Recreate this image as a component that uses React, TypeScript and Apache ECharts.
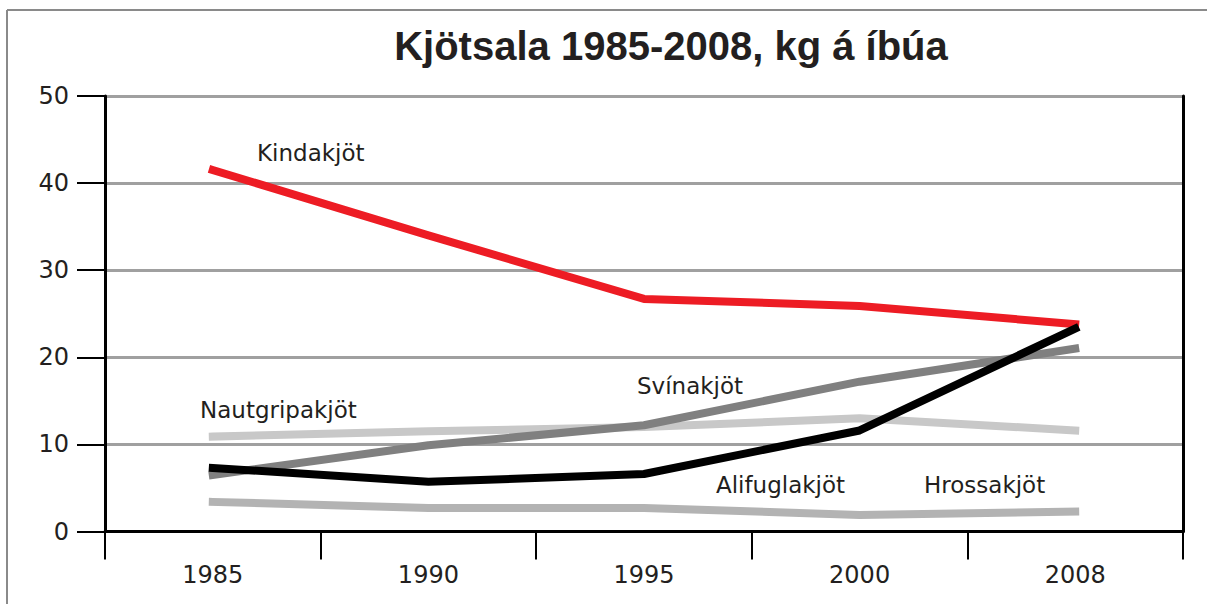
import React, { useEffect, useRef } from "react";
import * as echarts from "echarts";

const years = ["1985", "1990", "1995", "2000", "2008"];
const kindakjot = [41.5, 34.0, 26.7, 25.9, 23.8];
const nautgripakjot = [10.9, 11.5, 12.0, 13.0, 11.6];
const svinakjot = [6.5, 9.9, 12.2, 17.2, 21.0];
const alifuglakjot = [7.3, 5.7, 6.6, 11.6, 23.3];
const hrossakjot = [3.4, 2.7, 2.7, 1.9, 2.3];
const yTicks = { min: 0, max: 50, interval: 10 };

const titleText = "Kjötsala 1985-2008, kg á íbúa";

export default function App() {
  const ref = useRef<HTMLDivElement>(null);
  useEffect(() => {
    if (!ref.current) return;
    const chart = echarts.init(ref.current, null, { renderer: "svg" });
    const textColor = "#231f20";
    const labelFont = "'DejaVu Sans', sans-serif";
    const line = (name: string, data: number[], color: string, z: number) => ({
      name,
      type: "line",
      data,
      showSymbol: false,
      symbol: "none",
      z,
      lineStyle: { color, width: 8, cap: "square", join: "round" },
    });
    const lbl = (text: string, x: number, y: number) => ({
      type: "text",
      x,
      y,
      style: {
        text,
        fill: textColor,
        font: `23px ${labelFont}`,
        textVerticalAlign: "middle",
      },
    });
    chart.setOption({
      animation: false,
      backgroundColor: "#ffffff",
      grid: { left: 105, right: 24, top: 96, bottom: 72.5, containLabel: false },
      xAxis: {
        type: "category",
        data: years,
        boundaryGap: true,
        axisLine: { show: true, lineStyle: { color: "#000", width: 3 } },
        axisTick: { show: true, interval: 0, length: 28, lineStyle: { color: "#000", width: 2 } },
        axisLabel: { color: textColor, fontFamily: labelFont, fontSize: 24, margin: 31 },
        splitLine: { show: false },
      },
      yAxis: [
        {
          type: "value",
          min: yTicks.min,
          max: yTicks.max,
          interval: yTicks.interval,
          axisLine: { show: true, lineStyle: { color: "#000", width: 3 } },
          axisTick: { show: true, length: 28, lineStyle: { color: "#000", width: 2 } },
          axisLabel: { color: textColor, fontFamily: labelFont, fontSize: 24, margin: 36 },
          splitLine: { show: true, lineStyle: { color: "#a0a0a0", width: 3 } },
        },
        {
          type: "value",
          position: "right",
          min: yTicks.min,
          max: yTicks.max,
          interval: yTicks.interval,
          axisLine: { show: true, lineStyle: { color: "#000", width: 3 } },
          axisTick: { show: false },
          axisLabel: { show: false },
          splitLine: { show: false },
        },
      ],
      series: [
        line("Nautgripakjöt", nautgripakjot, "#c8c8c8", 2),
        line("Hrossakjöt", hrossakjot, "#b3b3b3", 2),
        line("Svínakjöt", svinakjot, "#808080", 3),
        line("Kindakjöt", kindakjot, "#ed1c24", 4),
        line("Alifuglakjöt", alifuglakjot, "#000000", 5),
      ],
      graphic: [
        { type: "line", shape: { x1: 7, y1: 10, x2: 1207, y2: 10 }, style: { stroke: "#8a8a8a", lineWidth: 2 } },
        { type: "line", shape: { x1: 7, y1: 10, x2: 7, y2: 604 }, style: { stroke: "#8a8a8a", lineWidth: 2 } },
        {
          type: "text",
          x: 671,
          y: 46,
          style: {
            text: titleText,
            fill: textColor,
            font: "bold 40px 'Liberation Sans', Arial, sans-serif",
            textAlign: "center",
            textVerticalAlign: "middle",
          },
        },
        lbl("Kindakjöt", 257, 153),
        lbl("Nautgripakjöt", 200, 410),
        lbl("Svínakjöt", 637, 386),
        lbl("Alifuglakjöt", 716, 485),
        lbl("Hrossakjöt", 924, 485),
      ],
    });
    return () => chart.dispose();
  }, []);
  return (
    <div
      ref={ref}
      style={{ position: "absolute", left: 0, top: 0, width: 1207, height: 604 }}
    />
  );
}
